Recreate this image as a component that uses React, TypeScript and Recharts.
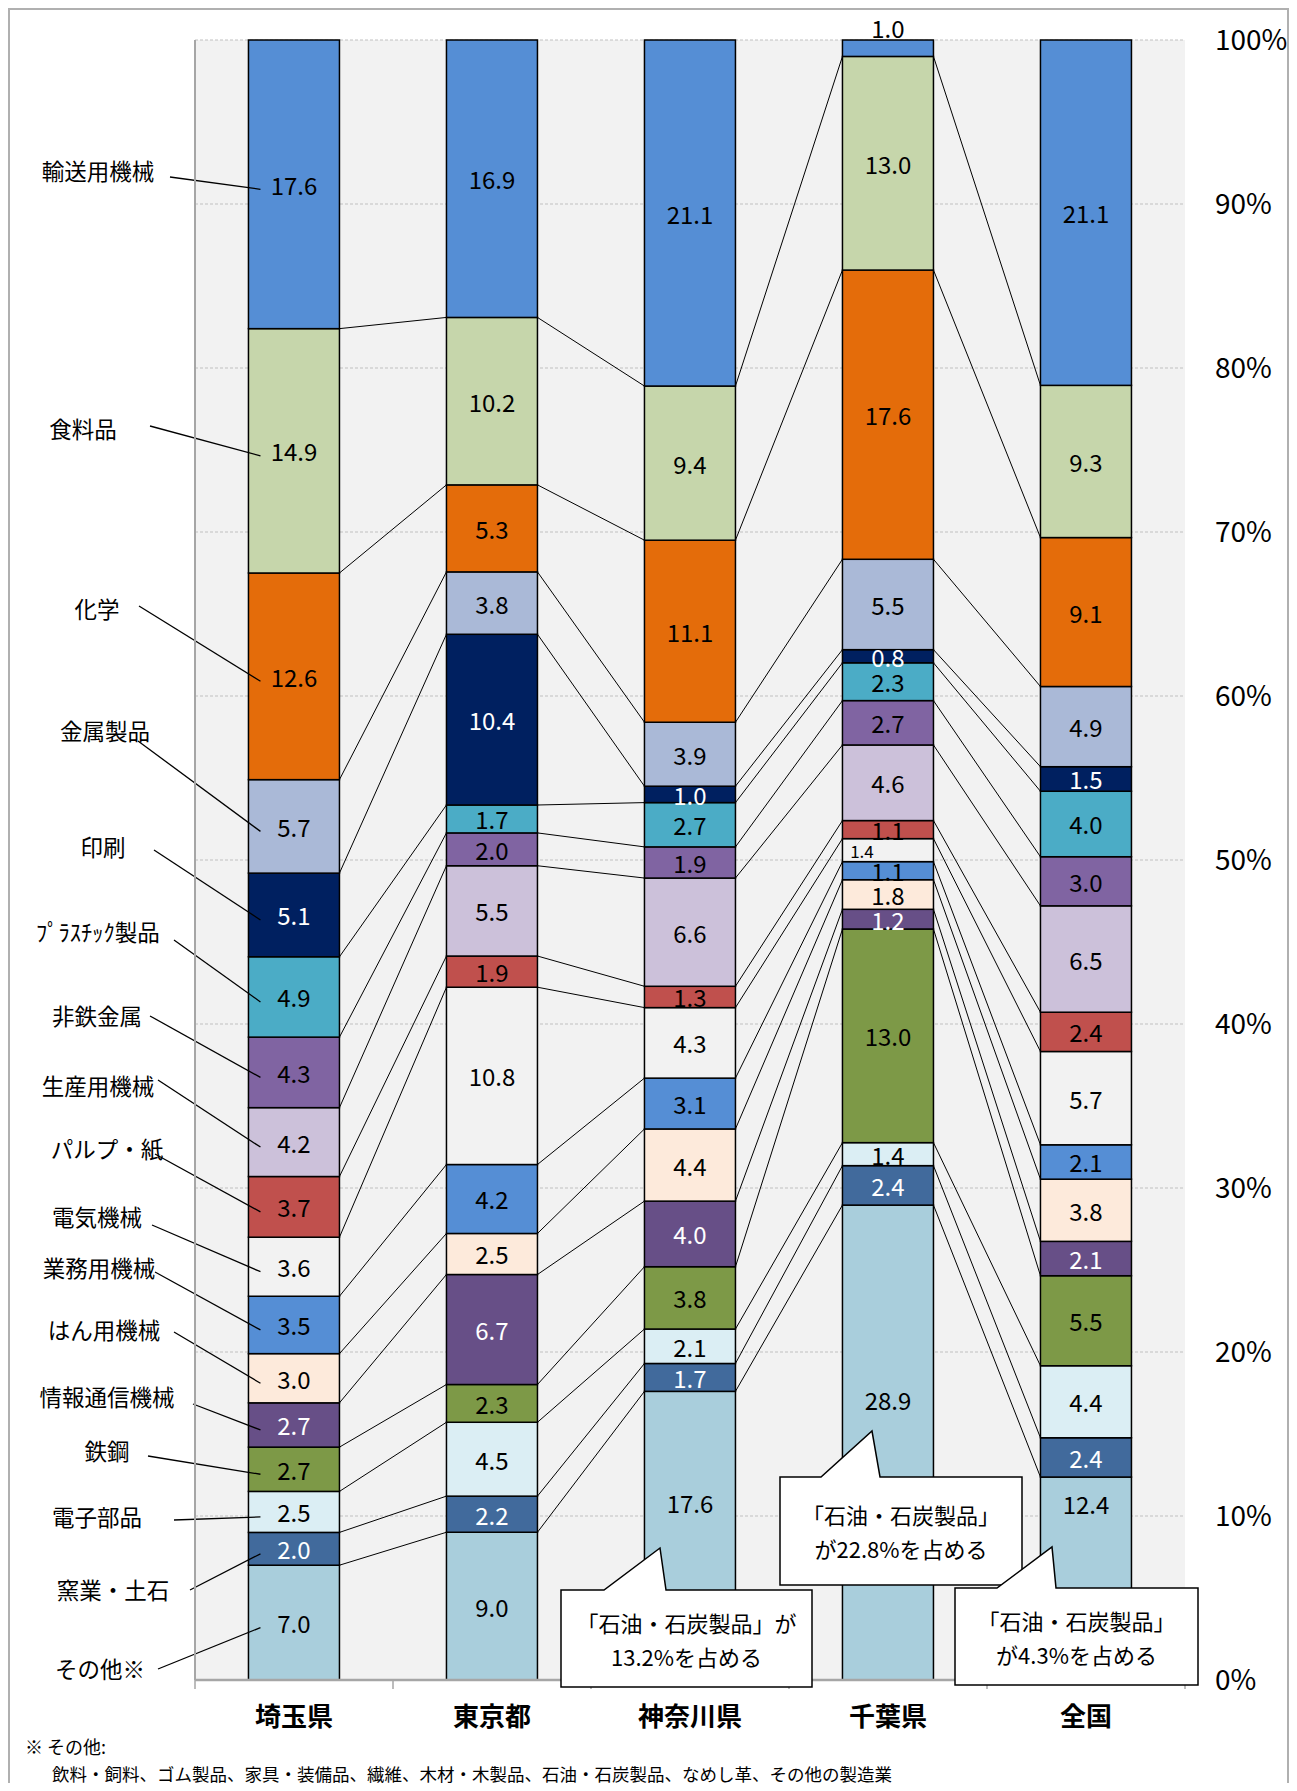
import React from "react";
import { BarChart, Bar, XAxis, YAxis, CartesianGrid, LabelList } from "recharts";

const regions = ["埼玉県", "東京都", "神奈川県", "千葉県", "全国"];

// 業種別構成比(%)、積み上げの下から順
const sonota = [7.0, 9.0, 17.6, 28.9, 12.4];
const yogyoDoseki = [2.0, 2.2, 1.7, 2.4, 2.4];
const denshiBuhin = [2.5, 4.5, 2.1, 1.4, 4.4];
const tekko = [2.7, 2.3, 3.8, 13.0, 5.5];
const johoTsushin = [2.7, 6.7, 4.0, 1.2, 2.1];
const hanyoKikai = [3.0, 2.5, 4.4, 1.8, 3.8];
const gyomuyoKikai = [3.5, 4.2, 3.1, 1.1, 2.1];
const denkiKikai = [3.6, 10.8, 4.3, 1.4, 5.7];
const pulpKami = [3.7, 1.9, 1.3, 1.1, 2.4];
const seisanyoKikai = [4.2, 5.5, 6.6, 4.6, 6.5];
const hitetsuKinzoku = [4.3, 2.0, 1.9, 2.7, 3.0];
const plastic = [4.9, 1.7, 2.7, 2.3, 4.0];
const insatsu = [5.1, 10.4, 1.0, 0.8, 1.5];
const kinzokuSeihin = [5.7, 3.8, 3.9, 5.5, 4.9];
const kagaku = [12.6, 5.3, 11.1, 17.6, 9.1];
const shokuryohin = [14.9, 10.2, 9.4, 13.0, 9.3];
const yusoyoKikai = [17.6, 16.9, 21.1, 1.0, 21.1];

const industries = [
  "その他※", "窯業・土石", "電子部品", "鉄鋼", "情報通信機械", "はん用機械",
  "業務用機械", "電気機械", "パルプ・紙", "生産用機械", "非鉄金属", "ﾌﾟﾗｽﾁｯｸ製品",
  "印刷", "金属製品", "化学", "食料品", "輸送用機械",
];
const seriesValues = [
  sonota, yogyoDoseki, denshiBuhin, tekko, johoTsushin, hanyoKikai,
  gyomuyoKikai, denkiKikai, pulpKami, seisanyoKikai, hitetsuKinzoku, plastic,
  insatsu, kinzokuSeihin, kagaku, shokuryohin, yusoyoKikai,
];

const pctTicks = [0, 0.1, 0.2, 0.3, 0.4, 0.5, 0.6, 0.7, 0.8, 0.9, 1];

const calloutTexts = [
  ["「石油・石炭製品」が", "13.2%を占める"],
  ["「石油・石炭製品」", "が22.8%を占める"],
  ["「石油・石炭製品」", "が4.3%を占める"],
];
const noteTitle = "※ その他:";
const noteBody =
  "飲料・飼料、ゴム製品、家具・装備品、繊維、木材・木製品、石油・石炭製品、なめし革、その他の製造業";

const chartData = regions.map((region, i) => {
  const row: Record<string, string | number> = { region };
  seriesValues.forEach((vals, k) => {
    row[`s${k}`] = vals[i];
  });
  return row;
});

// ---- styles / layout ----
const FONT = '"Noto Sans CJK JP", "Noto Sans", sans-serif';
const W = 1281;
const H = 1775;
const MARGIN = { top: 32, right: 0, bottom: 43, left: 167 };
const LEFT_AXIS_W = 20;
const RIGHT_AXIS_W = 104;
const PLOT_W = W - MARGIN.left - MARGIN.right - LEFT_AXIS_W - RIGHT_AXIS_W;
const STEP = PLOT_W / regions.length;

const colors = [
  "#A9CEDC", "#416A9C", "#DBEEF4", "#7D9947", "#674F87", "#FDEADB",
  "#558ED5", "#F2F2F2", "#C0504D", "#CCC1DA", "#8064A2", "#4BACC6",
  "#002060", "#AAB9D7", "#E46C0A", "#C6D6AB", "#558ED5",
];
const whiteText = new Set([1, 4, 12]);

// value labels moved out of the way of the callouts: "series-index" -> dy
const labelShift: Record<string, number> = { "0-2": -33, "0-3": -43, "0-4": -75 };

// left-side legend labels: text centre and leader start (chart coords)
const leftLabels = [
  { tx: 92, ty: 1660, lx: 150, ly: 1661 },
  { tx: 105, ty: 1581, lx: 182, ly: 1582 },
  { tx: 89, ty: 1508, lx: 166, ly: 1512 },
  { tx: 99, ty: 1442, lx: 140, ly: 1448 },
  { tx: 99, ty: 1388, lx: 185, ly: 1396 },
  { tx: 96, ty: 1321, lx: 166, ly: 1324 },
  { tx: 91, ty: 1259, lx: 147, ly: 1264 },
  { tx: 89, ty: 1208, lx: 144, ly: 1217 },
  { tx: 99, ty: 1140, lx: 147, ly: 1146 },
  { tx: 90, ty: 1077, lx: 150, ly: 1072 },
  { tx: 89, ty: 1007, lx: 142, ly: 1008 },
  { tx: 90, ty: 923, lx: 166, ly: 932 },
  { tx: 95, ty: 838, lx: 146, ly: 842 },
  { tx: 97, ty: 722, lx: 130, ly: 733 },
  { tx: 89, ty: 600, lx: 131, ly: 598 },
  { tx: 75, ty: 420, lx: 142, ly: 418 },
  { tx: 90, ty: 162, lx: 162, ly: 169 },
];

const callouts = [
  { x: 553, y: 1582, w: 251, h: 97, tail: [596, 658], tip: [652, 1540] },
  { x: 772, y: 1469, w: 242, h: 108, tail: [813, 872], tip: [864, 1423] },
  { x: 947, y: 1580, w: 243, h: 97, tail: [989, 1048], tip: [1044, 1539] },
];

const cumTop = (k: number, i: number) => {
  let s = 0;
  for (let j = 0; j <= k; j++) s += seriesValues[j][i];
  return s;
};
const total = (i: number) => cumTop(seriesValues.length - 1, i);

const makeShape = (k: number) => (props: any) => {
  const { x, width, index } = props;
  const i = index as number;
  const top = props.height < 0 ? props.y + props.height : props.y;
  const h = Math.abs(props.height);
  // derive the plot scale from this rectangle
  const frac = seriesValues[k][i] / total(i);
  const plotH = frac > 0 ? h / frac : 0;
  const plotTop = top - (1 - cumTop(k, i) / total(i)) * plotH;
  const last = k === seriesValues.length - 1;
  let seriesLine = null;
  if (!last && i < regions.length - 1) {
    const nextY = plotTop + (1 - cumTop(k, i + 1) / total(i + 1)) * plotH;
    seriesLine = (
      <line x1={x + width} y1={top} x2={x + STEP} y2={nextY} stroke="#000" strokeWidth={1} />
    );
  }
  let legend = null;
  if (i === 0) {
    const lab = leftLabels[k];
    legend = (
      <g>
        <line x1={lab.lx} y1={lab.ly} x2={x + 12} y2={top + h / 2 + 5} stroke="#000" strokeWidth={1.3} />
        <text x={lab.tx} y={lab.ty} textAnchor="middle" dominantBaseline="central" fontSize={22.5} fill="#000">
          {industries[k]}
        </text>
      </g>
    );
  }
  return (
    <g>
      <rect x={x} y={top} width={width} height={h} fill={colors[k]} stroke="#000" strokeWidth={1.5} />
      {seriesLine}
      {legend}
    </g>
  );
};

const makeValueLabel = (k: number) => (props: any) => {
  const i = props.index as number;
  const box = props.viewBox && props.viewBox.width !== undefined ? props.viewBox : props;
  const x = Number(box.x);
  const y = Number(box.y);
  const w = Number(box.width);
  const hh = Number(box.height);
  const top = hh < 0 ? y + hh : y;
  let cy = top + Math.abs(hh) / 2 + (labelShift[`${k}-${i}`] ?? 0);
  let dx = 0;
  let fontSize = 24;
  if (k === seriesValues.length - 1 && i === 3) cy = top - 13;
  if (k === 7 && i === 3) {
    fontSize = 17;
    dx = -26;
  }
  return (
    <text
      x={x + w / 2 + dx}
      y={cy}
      textAnchor="middle"
      dominantBaseline="central"
      fontSize={fontSize}
      fill={whiteText.has(k) ? "#FFFFFF" : "#000000"}
    >
      {seriesValues[k][i].toFixed(1)}
    </text>
  );
};

const CategoryTick = (props: any) => {
  const { x, y, payload, index } = props;
  const half = STEP / 2;
  return (
    <g>
      <line x1={x + half} y1={y} x2={x + half} y2={y + 9} stroke="#A6A6A6" strokeWidth={1.5} />
      {index === 0 && (
        <line x1={x - half} y1={y} x2={x - half} y2={y + 9} stroke="#A6A6A6" strokeWidth={1.5} />
      )}
      <text x={x} y={y + 34} textAnchor="middle" dominantBaseline="central" fontSize={26} fontWeight="bold" fill="#000">
        {payload.value}
      </text>
    </g>
  );
};

export default function App() {
  return (
    <div style={{ position: "relative", width: W, height: H, fontFamily: FONT }}>
      <BarChart
        width={W}
        height={H}
        data={chartData}
        stackOffset="expand"
        margin={MARGIN}
        barCategoryGap="27%"
      >
        <CartesianGrid vertical={false} fill="#F2F2F2" fillOpacity={1} stroke="#C0C0C0" strokeDasharray="3 2" />
        <XAxis
          dataKey="region"
          interval={0}
          height={60}
          tickLine={false}
          tickSize={0}
          tickMargin={0}
          axisLine={{ stroke: "#A6A6A6", strokeWidth: 2.5 }}
          tick={(p: any) => <CategoryTick {...p} />}
        />
        <YAxis
          yAxisId="left"
          orientation="left"
          width={LEFT_AXIS_W}
          type="number"
          domain={[0, 1]}
          allowDataOverflow
          ticks={pctTicks}
          tick={false}
          tickSize={10}
          tickLine={{ stroke: "#A6A6A6", strokeWidth: 1.5 }}
          axisLine={{ stroke: "#A6A6A6", strokeWidth: 2 }}
        />
        <YAxis
          orientation="right"
          width={RIGHT_AXIS_W}
          type="number"
          domain={[0, 1]}
          ticks={pctTicks}
          axisLine={false}
          tickLine={false}
          tickSize={0}
          tickMargin={30}
          tick={{ fontSize: 28, fill: "#000" }}
          tickFormatter={(v: number) => `${Math.round(v * 100)}%`}
        />
        {industries.map((name, k) => (
          <Bar
            key={name}
            dataKey={`s${k}`}
            name={name}
            stackId="a"
            fill={colors[k]}
            shape={makeShape(k)}
            isAnimationActive={false}
          >
            <LabelList dataKey={`s${k}`} content={makeValueLabel(k)} />
          </Bar>
        ))}
      </BarChart>
      <svg
        width={W}
        height={H}
        style={{ position: "absolute", left: 0, top: 0, pointerEvents: "none" }}
      >
        {callouts.map((c, n) => {
          const d = `M${c.x},${c.y} L${c.tail[0]},${c.y} L${c.tip[0]},${c.tip[1]} L${c.tail[1]},${c.y} L${c.x + c.w},${c.y} L${c.x + c.w},${c.y + c.h} L${c.x},${c.y + c.h} Z`;
          const cx = c.x + c.w / 2;
          const cy = c.y + c.h / 2;
          return (
            <g key={n}>
              <path d={d} fill="#FFFFFF" stroke="#000" strokeWidth={1.5} />
              {calloutTexts[n].map((t, j) => (
                <text
                  key={j}
                  x={cx}
                  y={cy + (j === 0 ? -17 : 17)}
                  textAnchor="middle"
                  dominantBaseline="central"
                  fontSize={22}
                  fill="#000"
                >
                  {t}
                </text>
              ))}
            </g>
          );
        })}
        <text x={17} y={1738} dominantBaseline="central" fontSize={18} fill="#000">
          {noteTitle}
        </text>
        <text x={44} y={1765} dominantBaseline="central" fontSize={17.5} fill="#000">
          {noteBody}
        </text>
      </svg>
      <div
        style={{
          position: "absolute",
          left: 0,
          top: 0,
          width: W,
          height: H,
          boxSizing: "border-box",
          borderTop: "2px solid #B0B0B0",
          borderLeft: "2px solid #B0B0B0",
          borderRight: "2px solid #B0B0B0",
          pointerEvents: "none",
        }}
      />
    </div>
  );
}
